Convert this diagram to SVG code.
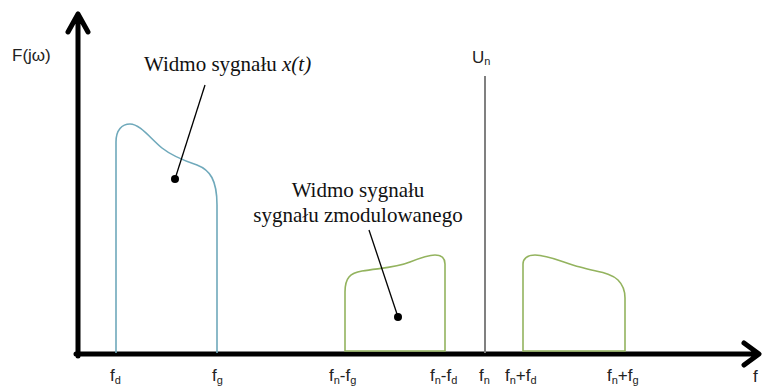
<svg xmlns="http://www.w3.org/2000/svg" width="762" height="387" viewBox="0 0 762 387">
<style>
.ax{fill:none;stroke:#000;stroke-width:5;stroke-linecap:round;stroke-linejoin:round}
.blue{fill:none;stroke:#6fa9bb;stroke-width:1.6}
.green{fill:none;stroke:#93b35e;stroke-width:1.6}
.lead{fill:none;stroke:#000;stroke-width:1.3}
.dot{fill:#000}
.serif{font-family:"Liberation Serif","Times New Roman",serif;font-size:21px;fill:#111}
.sans{font-family:"Liberation Sans",Arial,sans-serif;font-size:17px;fill:#222}
.sub{font-size:11px}
</style>
<rect width="762" height="387" fill="#fff"/>
<g id="axes">
<path class="ax" d="M78,356 V14 M68,32 L78,14 L88,32"/>
<path class="ax" d="M76,354 H758 M744,343 L759,354 L744,365"/>
<text class="sans" x="12" y="61">F(jω)</text>
<text class="sans" x="753" y="382">f</text>
</g>
<g id="carrier">
<line x1="485" y1="76" x2="485" y2="353" stroke="#808080" stroke-width="2"/>
<text class="sans" x="472" y="63">U<tspan class="sub" dy="2">n</tspan></text>
</g>
<g id="baseband">
<path class="blue" d="M116,353 V142 C116,130 122,124 130,124 C140,124 150,138 162,148 C172,156 185,161 197,165 C210,170 217,180 217,205 V353"/>
</g>
<g id="lsb">
<path class="green" d="M345,351 V292 C345,278 350,273 362,271 C380,268 395,268 410,262 C420,258 428,255 435,255 C442,255 445,259 445,264 V351 Z"/>
</g>
<g id="usb">
<path class="green" d="M523,351 V264 C523,259 527,255 535,255 C548,255 562,262 580,267 C596,272 610,272 618,280 C624,286 625,292 625,298 V351 Z"/>
</g>
<g id="label-x">
<text class="serif" x="144" y="71">Widmo sygnału <tspan font-style="italic">x(t)</tspan></text>
</g>
<g id="label-mod">
<text class="serif" x="358" y="197" text-anchor="middle">Widmo sygnału</text>
<text class="serif" x="358" y="222" text-anchor="middle">sygnału zmodulowanego</text>
</g>
<g id="connectors">
<line class="lead" x1="205" y1="85" x2="175" y2="179"/>
<circle class="dot" cx="175" cy="179" r="4"/>
<line class="lead" x1="369" y1="230" x2="398" y2="317"/>
<circle class="dot" cx="398" cy="317" r="4"/>
</g>
<g id="ticks">
<text class="sans" x="110" y="381">f<tspan class="sub" dy="3">d</tspan></text>
<text class="sans" x="212" y="381">f<tspan class="sub" dy="3">g</tspan></text>
<text class="sans" x="329" y="381">f<tspan class="sub" dy="3">n</tspan><tspan dy="-3">-f</tspan><tspan class="sub" dy="3">g</tspan></text>
<text class="sans" x="430" y="381">f<tspan class="sub" dy="3">n</tspan><tspan dy="-3">-f</tspan><tspan class="sub" dy="3">d</tspan></text>
<text class="sans" x="479" y="381">f<tspan class="sub" dy="3">n</tspan></text>
<text class="sans" x="505" y="381">f<tspan class="sub" dy="3">n</tspan><tspan dy="-3">+f</tspan><tspan class="sub" dy="3">d</tspan></text>
<text class="sans" x="607" y="381">f<tspan class="sub" dy="3">n</tspan><tspan dy="-3">+f</tspan><tspan class="sub" dy="3">g</tspan></text>
</g>
</svg>
